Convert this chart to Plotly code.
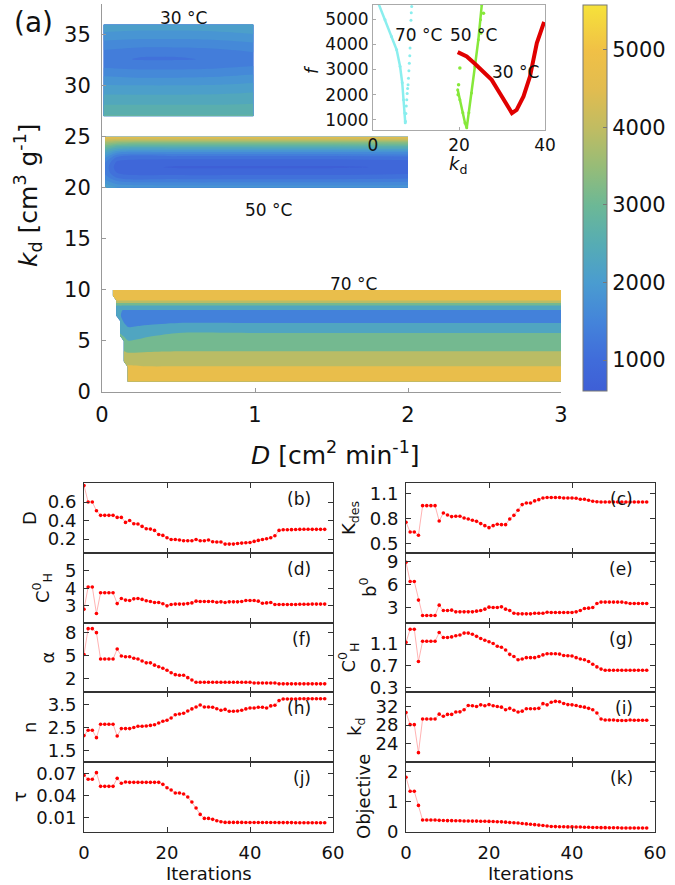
import plotly.graph_objects as go

NaN = float("nan")

# ---------------- data: panel (a) contour regions ----------------
D30 = [0.01, 0.25, 0.5, 0.75, 0.99]
K30 = [27, 28, 29, 30, 31, 32, 32.6, 33, 34, 35, 36]
F30 = [
    [2750, 2750, 2750, 2750, 2750],
    [2500, 2500, 2500, 2500, 2520],
    [2250, 2250, 2250, 2260, 2300],
    [2000, 1980, 1980, 2000, 2050],
    [1700, 1650, 1650, 1680, 1750],
    [1400, 1350, 1350, 1380, 1450],
    [1300, 1200, 1200, 1250, 1350],
    [1350, 1250, 1250, 1300, 1400],
    [1600, 1550, 1550, 1580, 1650],
    [1900, 1850, 1850, 1880, 1950],
    [2200, 2150, 2150, 2180, 2250],
]

D50 = [0.02, 0.1, 0.5, 1.0, 1.5, 2.0]
K50 = [20, 20.5, 21, 21.5, 22, 22.5, 23, 23.5, 24, 24.5, 25]
F50 = [
    [2300, 2000, 1900, 1900, 1900, 1900],
    [1900, 1600, 1500, 1500, 1500, 1550],
    [1600, 1200, 1100, 1100, 1100, 1150],
    [1400, 950, 850, 850, 850, 900],
    [1400, 800, 700, 700, 700, 750],
    [1500, 900, 800, 800, 800, 850],
    [1800, 1200, 1100, 1100, 1100, 1150],
    [2300, 1800, 1700, 1700, 1700, 1750],
    [3000, 2600, 2500, 2500, 2500, 2550],
    [3800, 3600, 3500, 3500, 3500, 3500],
    [4700, 4700, 4700, 4700, 4700, 4700],
]

D70 = [0.07, 0.095, 0.12, 0.145, 0.17, 0.3, 0.5, 1.0, 2.0, 3.0]
K70 = [1, 1.5, 2, 2.5, 3, 3.5, 4, 4.5, 5, 5.5, 6, 6.5, 7, 7.5, 8, 8.5, 9, 9.5, 10]
F70 = [
    [NaN, NaN, NaN, NaN, 5000, 5000, 5000, 5000, 5000, 5000],
    [NaN, NaN, NaN, NaN, 4900, 4900, 4900, 4900, 4900, 4900],
    [NaN, NaN, NaN, NaN, 4750, 4700, 4700, 4700, 4700, 4700],
    [NaN, NaN, NaN, NaN, 4400, 4340, 4340, 4340, 4340, 4340],
    [NaN, NaN, NaN, 4100, 4100, 4100, 4100, 4100, 4100, 4100],
    [NaN, NaN, NaN, 3800, 3750, 3800, 3800, 3800, 3800, 3800],
    [NaN, NaN, NaN, 3500, 3400, 3450, 3500, 3500, 3500, 3500],
    [NaN, NaN, NaN, 3300, 3050, 3200, 3300, 3300, 3300, 3300],
    [NaN, NaN, NaN, 3000, 2700, 2900, 3100, 3100, 3100, 3100],
    [NaN, NaN, 2800, 2600, 2400, 2600, 2900, 2900, 2900, 2900],
    [NaN, NaN, 2500, 2300, 2100, 2300, 2500, 2500, 2500, 2500],
    [NaN, NaN, 2300, 2000, 1750, 1900, 2100, 2100, 2100, 2100],
    [NaN, NaN, 2100, 1700, 1400, 1500, 1600, 1600, 1600, 1600],
    [NaN, 2100, 1900, 1500, 1300, 1300, 1300, 1300, 1300, 1300],
    [NaN, 2000, 1900, 1800, 1800, 1800, 1800, 1800, 1800, 1800],
    [NaN, 2750, 2750, 2750, 2750, 2750, 2750, 2750, 2750, 2750],
    [NaN, 4500, 4500, 4500, 4500, 4500, 4500, 4500, 4500, 4500],
    [4900, 4900, 4900, 4900, 4900, 4900, 4900, 4900, 4900, 4900],
    [5000, 5000, 5000, 5000, 5000, 5000, 5000, 5000, 5000, 5000],
]

# ---------------- data: inset f vs k_d ----------------
cyan_k = [1.24, 2.8, 4.3, 5.5, 6.3, 6.8, 7.1, 7.4, 7.5]
cyan_f = [5635, 4970, 4310, 3780, 3120, 2470, 1800, 1270, 890]
cyan_dot_k = [7.55, 7.65, 7.75, 7.85, 7.95, 8.05, 8.15, 8.25, 8.35, 8.45, 8.55,
              8.62, 8.7, 8.77, 8.83, 8.9, 9.0]
cyan_dot_f = [950, 1250, 1550, 1800, 2050, 2250, 2400, 2650, 2950, 3250, 3550,
              3850, 4200, 4600, 4950, 5250, 5500]
green_k = [19.7, 20.2, 20.9, 21.4, 21.8, 22.3, 22.9, 23.7, 24.5, 25.0, 25.3]
green_f = [2200, 1800, 1280, 880, 690, 1280, 2070, 3120, 4180, 4970, 5570]
green_stray_k = [20.2, 19.9, 25.7, 25.1, 19.8]
green_stray_f = [3060, 2400, 5230, 4450, 2000]
red_k = [19.7, 21.8, 23.7, 25.6, 27.6, 29.5, 31.1, 32.3, 33.4, 35.0, 36.5, 38.1, 39.8]
red_f = [3690, 3520, 3230, 2920, 2590, 2060, 1600, 1270, 1400, 1930, 2720, 4050, 4890]

# ---------------- data: optimisation history ----------------
iterations = list(range(59))
D_hist = [0.777, 0.60, 0.60, 0.506, 0.456, 0.456, 0.456, 0.456, 0.434, 0.434,
          0.38, 0.40, 0.366, 0.362, 0.337, 0.312, 0.308, 0.294, 0.25, 0.24,
          0.214, 0.196, 0.196, 0.19, 0.182, 0.182, 0.182, 0.196, 0.182, 0.182,
          0.19, 0.171, 0.168, 0.168, 0.146, 0.146, 0.146, 0.153, 0.157, 0.16,
          0.164, 0.175, 0.186, 0.196, 0.204, 0.214, 0.236, 0.294, 0.30, 0.30,
          0.302, 0.303, 0.305, 0.306, 0.306, 0.305, 0.305, 0.305, 0.305]
CH0_left = [2.81, 4.08, 4.08, 2.56, 3.75, 3.75, 3.75, 3.75, 3.13, 3.42,
            3.33, 3.31, 3.40, 3.42, 3.37, 3.29, 3.25, 3.19, 3.19, 3.12,
            3.0, 3.08, 3.10, 3.10, 3.10, 3.13, 3.17, 3.27, 3.25, 3.25,
            3.25, 3.25, 3.21, 3.23, 3.19, 3.23, 3.23, 3.23, 3.25, 3.31,
            3.31, 3.31, 3.27, 3.15, 3.17, 3.19, 3.08, 3.08, 3.08, 3.08,
            3.08, 3.08, 3.09, 3.09, 3.09, 3.10, 3.10, 3.10, 3.10]
alpha_hist = [5.2, 8.56, 8.56, 8.04, 4.6, 4.6, 4.6, 4.6, 5.9, 5.0,
              4.9, 4.9, 4.7, 4.6, 4.35, 4.1, 4.1, 3.8, 3.6, 3.4,
              3.13, 2.82, 2.56, 2.48, 2.48, 2.17, 1.87, 1.57, 1.57, 1.57,
              1.57, 1.57, 1.57, 1.57, 1.57, 1.57, 1.57, 1.57, 1.57, 1.57,
              1.57, 1.48, 1.48, 1.48, 1.48, 1.48, 1.48, 1.36, 1.36, 1.36,
              1.36, 1.36, 1.36, 1.36, 1.36, 1.36, 1.36, 1.36, 1.36]
n_hist = [2.15, 2.38, 2.38, 2.06, 2.64, 2.64, 2.64, 2.64, 2.13, 2.45,
          2.45, 2.45, 2.5, 2.55, 2.55, 2.56, 2.59, 2.62, 2.69, 2.77,
          2.81, 2.91, 3.05, 3.08, 3.11, 3.21, 3.30, 3.38, 3.47, 3.38,
          3.38, 3.37, 3.31, 3.24, 3.28, 3.2, 3.2, 3.21, 3.24, 3.3,
          3.34, 3.34, 3.37, 3.37, 3.34, 3.43, 3.46, 3.66, 3.73, 3.73,
          3.73, 3.73, 3.74, 3.74, 3.74, 3.74, 3.74, 3.74, 3.74]
tau_hist = [0.0673, 0.0619, 0.0619, 0.0709, 0.0524, 0.0524, 0.0524, 0.0524, 0.0632, 0.0565,
            0.0583, 0.0578, 0.0578, 0.0578, 0.0578, 0.0578, 0.0578, 0.0578, 0.0578, 0.0551,
            0.0506, 0.0474, 0.0434, 0.0434, 0.042, 0.038, 0.0312, 0.0231, 0.0145, 0.0091,
            0.0091, 0.0078, 0.006, 0.0046, 0.0037, 0.0037, 0.0037, 0.0037, 0.0037, 0.0036,
            0.0036, 0.0036, 0.0036, 0.0035, 0.0035, 0.0035, 0.0035, 0.0034, 0.0034, 0.0034,
            0.0034, 0.0033, 0.0033, 0.0033, 0.0033, 0.0033, 0.0032, 0.0032, 0.0032]
Kdes_hist = [0.757, 0.642, 0.642, 0.603, 0.954, 0.954, 0.954, 0.954, 0.772, 0.867,
             0.843, 0.824, 0.828, 0.828, 0.808, 0.796, 0.78, 0.768, 0.741, 0.717,
             0.693, 0.717, 0.733, 0.729, 0.729, 0.796, 0.839, 0.9, 0.966, 0.986,
             0.986, 1.01, 1.025, 1.045, 1.05, 1.05, 1.05, 1.05, 1.045, 1.045,
             1.045, 1.042, 1.03, 1.03, 1.017, 1.005, 1.0, 0.997, 0.997, 0.997,
             0.997, 0.997, 0.997, 0.997, 0.997, 0.997, 0.997, 0.997, 0.997]
b0_hist = [8.9, 6.4, 6.4, 4.0, 2.0, 2.0, 2.0, 2.0, 3.35, 2.65,
           2.65, 2.7, 2.48, 2.48, 2.48, 2.48, 2.48, 2.57, 2.65, 2.83,
           3.09, 3.04, 3.04, 3.13, 2.83, 2.65, 2.3, 2.22, 2.22, 2.22,
           2.22, 2.3, 2.3, 2.3, 2.43, 2.39, 2.39, 2.39, 2.39, 2.39,
           2.39, 2.48, 2.65, 2.91, 2.96, 3.04, 3.57, 3.74, 3.74, 3.74,
           3.74, 3.74, 3.74, 3.66, 3.57, 3.57, 3.57, 3.57, 3.57]
CH0_right = [1.13, 1.37, 1.37, 0.78, 1.15, 1.15, 1.15, 1.15, 1.31, 1.22,
             1.22, 1.23, 1.25, 1.265, 1.30, 1.30, 1.28, 1.24, 1.20, 1.17,
             1.14, 1.11, 1.06, 1.04, 0.99, 0.91, 0.87, 0.81, 0.825, 0.85,
             0.85, 0.85, 0.87, 0.90, 0.92, 0.92, 0.92, 0.915, 0.89, 0.885,
             0.88, 0.85, 0.825, 0.81, 0.78, 0.73, 0.68, 0.64, 0.62, 0.62,
             0.62, 0.62, 0.62, 0.62, 0.62, 0.62, 0.62, 0.62, 0.62]
kd_hist = [30.7, 28.1, 28.1, 22.1, 29.3, 29.3, 29.3, 29.3, 30.35, 29.9,
           30.3, 30.3, 30.8, 30.85, 31.3, 32.2, 32.15, 32.0, 32.35, 32.15,
           32.4, 32.15, 32.0, 31.85, 31.3, 31.6, 31.2, 30.8, 31.0, 31.5,
           31.5, 31.5, 31.6, 32.6, 32.35, 32.9, 33.1, 33.0, 32.65, 32.4,
           32.35, 32.2, 32.0, 31.85, 31.6, 31.3, 30.6, 29.3, 29.1, 29.1,
           29.1, 29.0, 29.0, 29.0, 29.1, 29.05, 29.05, 29.05, 29.05]
obj_hist = [1.81, 1.34, 1.34, 0.87, 0.38, 0.38, 0.38, 0.38, 0.37, 0.365,
            0.36, 0.36, 0.355, 0.355, 0.35, 0.35, 0.345, 0.345, 0.34, 0.34,
            0.335, 0.33, 0.325, 0.32, 0.31, 0.30, 0.29, 0.28, 0.265, 0.25,
            0.24, 0.225, 0.21, 0.195, 0.18, 0.165, 0.16, 0.155, 0.155, 0.15,
            0.15, 0.145, 0.145, 0.14, 0.14, 0.13, 0.13, 0.125, 0.125, 0.12,
            0.12, 0.12, 0.115, 0.115, 0.115, 0.115, 0.115, 0.115, 0.115]

cbar_min, cbar_max = 600, 5580
cbar_ticks = [1000, 2000, 3000, 4000, 5000]

# ---------------- helpers (pixel -> paper) ----------------
W, H = 675, 885
def PX(x): return x / W
def PY(y): return 1 - y / H

FONT = "DejaVu Sans"
colorscale = [
    [0.00, "rgb(62,95,214)"], [0.08, "rgb(64,108,218)"], [0.18, "rgb(68,132,218)"],
    [0.28, "rgb(74,156,208)"], [0.38, "rgb(86,172,180)"], [0.48, "rgb(108,184,150)"],
    [0.58, "rgb(150,188,120)"], [0.68, "rgb(192,188,98)"], [0.78, "rgb(225,188,80)"],
    [0.88, "rgb(240,192,70)"], [1.00, "rgb(246,226,58)"],
]

def levels(n):
    # n equal bands spanning the colour range; fill colours are taken at band centres
    cs = (cbar_max - cbar_min) / n
    return dict(start=cbar_min + cs / 2, end=cbar_max - cs / 2 + 1e-6, size=cs, coloring="fill")

fig = go.Figure()

for (dx, ky, fz, nb) in [(D30, K30, F30, 20), (D50, K50, F50, 20), (D70, K70, F70, 6)]:
    fig.add_trace(go.Contour(
        x=dx, y=ky, z=fz, colorscale=colorscale, showscale=False, connectgaps=False,
        autocontour=False, contours=levels(nb),
        line=dict(width=0, smoothing=0.85), xaxis="x", yaxis="y", hoverinfo="skip"))

# colour bar (continuous, as in the reference)
fig.add_trace(go.Scatter(
    x=[None], y=[None], mode="markers", xaxis="x", yaxis="y", hoverinfo="skip",
    marker=dict(color=[cbar_min], cmin=cbar_min, cmax=cbar_max, colorscale=colorscale,
                showscale=True,
                colorbar=dict(x=PX(583), xanchor="left", y=PY(5), yanchor="top",
                              len=386 / H, lenmode="fraction", thickness=24,
                              xpad=0, ypad=0, outlinecolor="#777", outlinewidth=1,
                              tickvals=cbar_ticks, ticks="inside", ticklen=4, tickcolor="#777",
                              tickfont=dict(family=FONT, size=21, color="#111")))))

# inset
fig.add_trace(go.Scatter(x=cyan_k, y=cyan_f, mode="lines+markers", xaxis="x2", yaxis="y2",
                         line=dict(color="#8aeeee", width=2.5), marker=dict(size=3, color="#8aeeee")))
fig.add_trace(go.Scatter(x=cyan_dot_k, y=cyan_dot_f, mode="markers", xaxis="x2", yaxis="y2",
                         marker=dict(size=3, color="#8aeeee")))
fig.add_trace(go.Scatter(x=green_k, y=green_f, mode="lines+markers", xaxis="x2", yaxis="y2",
                         line=dict(color="#86e83a", width=2.5), marker=dict(size=3, color="#86e83a")))
fig.add_trace(go.Scatter(x=green_stray_k, y=green_stray_f, mode="markers", xaxis="x2", yaxis="y2",
                         marker=dict(size=3.5, color="#86e83a")))
fig.add_trace(go.Scatter(x=red_k, y=red_f, mode="lines", xaxis="x2", yaxis="y2",
                         line=dict(color="#e00000", width=4)))

# bottom panels
rows_px = [(483, 553), (553, 623), (623, 692), (692, 762), (762, 832)]
cols_px = [(84, 333), (406, 655)]
panels = [
    (0, 0, D_hist, [0.05, 0.805], [0.2, 0.4, 0.6], ["0.2", "0.4", "0.6"], "D", 29, "(b)"),
    (0, 1, CH0_left, [2.02, 6.02], [3, 4, 5], ["3", "4", "5"], "C<sup>0</sup><sub>H</sub>", 42, "(d)"),
    (0, 2, alpha_hist, [0.3, 9.3], [2, 5, 8], ["2", "5", "8"], "α", 47, "(f)"),
    (0, 3, n_hist, [1.01, 4.03], [1.5, 2.5, 3.5], ["1.5", "2.5", "3.5"], "n", 29, "(h)"),
    (0, 4, tau_hist, [-0.0093, 0.0853], [0.01, 0.04, 0.07], ["0.01", "0.04", "0.07"], "τ", 19, "(j)"),
    (1, 0, Kdes_hist, [0.393, 1.222], [0.5, 0.8, 1.1], ["0.5", "0.8", "1.1"], "K<sub>des</sub>", 350, "(c)"),
    (1, 1, b0_hist, [1.04, 10.09], [3, 6, 9], ["3", "6", "9"], "b<sup>0</sup>", 368, "(e)"),
    (1, 2, CH0_right, [0.22, 1.485], [0.3, 0.7, 1.1], ["0.3", "0.7", "1.1"], "C<sup>0</sup><sub>H</sub>", 348, "(g)"),
    (1, 3, kd_hist, [20.1, 35.1], [24, 28, 32], ["24", "28", "32"], "k<sub>d</sub>", 356, "(i)"),
    (1, 4, obj_hist, [-0.02, 2.32], [0, 1, 2], ["0", "1", "2"], "Objective", 363, "(k)"),
]

annotations = []
def note(text, x, y, size, angle=0, xanchor="center"):
    annotations.append(dict(text=text, x=PX(x), y=PY(y), xref="paper", yref="paper",
                            xanchor=xanchor, yanchor="middle", textangle=angle, showarrow=False,
                            font=dict(family=FONT, size=size, color="#111")))

layout_axes = {}
axis_common = dict(showline=True, mirror="allticks", linecolor="#333", linewidth=1,
                   ticks="inside", ticklen=5, tickcolor="#333", showgrid=False, zeroline=False,
                   tickfont=dict(family=FONT, size=18, color="#111"))
for idx, (c, r, vals, rng, tv, tt, title, tx, letter) in enumerate(panels):
    n = idx + 3
    x0, x1 = cols_px[c]
    y0, y1 = rows_px[r]
    fig.add_trace(go.Scatter(x=iterations, y=vals, mode="lines+markers",
                             xaxis=f"x{n}", yaxis=f"y{n}",
                             line=dict(color="#ffb3b3", width=1),
                             marker=dict(color="#ff0000", size=3.6, symbol="circle")))
    layout_axes[f"xaxis{n}"] = dict(domain=[PX(x0), PX(x1)], anchor=f"y{n}", range=[0, 60],
                                   tickvals=[0, 20, 40, 60], showticklabels=(r == 4),
                                   ticklabelstandoff=4, **axis_common)
    layout_axes[f"yaxis{n}"] = dict(domain=[PY(y1), PY(y0)], anchor=f"x{n}", range=rng,
                                   tickvals=tv, ticktext=tt, ticklabelstandoff=3, **axis_common)
    note(title, tx, (y0 + y1) / 2, 18, angle=-90)
    note(letter, x1 - 20, y0 + 16, 17, xanchor="right")

note("Iterations", (84 + 333) / 2, 873, 18)
note("Iterations", (406 + 655) / 2, 873, 18)

# panel (a) text
note("(a)", 33, 22, 28)
note("<i>k</i><sub>d</sub> [cm<sup>3</sup> g<sup>-1</sup>]", 28, 195, 25, angle=-90)
note("<i>D</i> [cm<sup>2</sup> min<sup>-1</sup>]", 335, 453, 25)
note("30 °C", 183, 18, 17)
note("50 °C", 268, 210, 17)
note("70 °C", 353, 284, 17)
note("70 °C", 418, 35, 17)
note("50 °C", 473, 35, 17)
note("30 °C", 515, 72, 17)
note("<i>f</i>", 312, 70, 17, angle=-90)
note("<i>k</i><sub>d</sub>", 458, 165, 18)

main_axis = dict(showline=True, linecolor="#999", linewidth=1, ticks="inside", ticklen=4,
                 tickcolor="#999", showgrid=False, zeroline=False,
                 tickfont=dict(family=FONT, size=21, color="#111"))
inset_axis = dict(showline=True, mirror=True, linecolor="#aaa", linewidth=1, ticks="inside",
                  ticklen=3, tickcolor="#aaa", showgrid=False, zeroline=False,
                  tickfont=dict(family=FONT, size=17, color="#111"))

fig.update_layout(
    width=W, height=H, margin=dict(l=0, r=0, t=0, b=0, autoexpand=False),
    paper_bgcolor="white", plot_bgcolor="white", showlegend=False,
    font=dict(family=FONT, color="#111"),
    xaxis=dict(domain=[PX(102), PX(561)], anchor="y", range=[0, 3], tickvals=[0, 1, 2, 3],
               ticklabelstandoff=4, **main_axis),
    yaxis=dict(domain=[PY(392), PY(4)], anchor="x", range=[0, 38],
               tickvals=[0, 5, 10, 15, 20, 25, 30, 35], ticklabelstandoff=6, **main_axis),
    xaxis2=dict(domain=[PX(373), PX(545)], anchor="y2", range=[0, 40], tickvals=[0, 20, 40],
                **inset_axis),
    yaxis2=dict(domain=[PY(130), PY(5)], anchor="x2", range=[600, 5560],
                tickvals=[1000, 2000, 3000, 4000, 5000], **inset_axis),
    annotations=annotations,
    **layout_axes,
)

fig.write_html("out.html", config={"displayModeBar": False},
               post_script="document.body.style.margin='0px';document.body.style.overflow='hidden';")
